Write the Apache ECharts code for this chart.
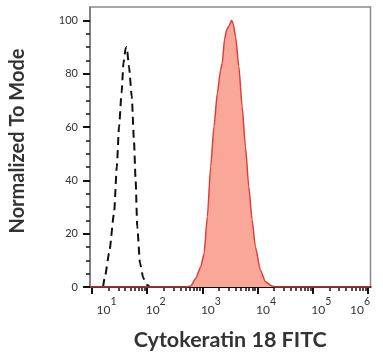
<!DOCTYPE html>
<html><head><meta charset="utf-8">
<script src="https://cdn.jsdelivr.net/npm/echarts@6/dist/echarts.min.js"></script>
<style>html,body{margin:0;padding:0;background:#fff}#c{width:383px;height:359px}</style>
</head><body><div id="c"></div>
<script>
// x positions are log10 of FITC intensity
const xTickExponents = [1, 2, 3, 4, 5, 6];
const yTickValues = [0, 20, 40, 60, 80, 100];
const yMinorTickValues = [5, 10, 15, 25, 30, 35, 45, 50, 55, 65, 70, 75, 85, 90, 95];
const isotypeLogX = [1.20, 1.235, 1.31, 1.40, 1.45, 1.49, 1.536, 1.57, 1.61, 1.63, 1.67, 1.72, 1.76, 1.79, 1.82, 1.87, 1.93, 2.00, 2.05];
const isotypeY    = [0, 3.9, 12.6, 27.7, 45.2, 60.2, 72.7, 84, 89.6, 90, 82.7, 71.5, 55.2, 40.2, 22.6, 8.9, 3.3, 0.75, 0];
const stainedLogX = [0.964, 2.70, 2.79, 2.88, 2.97, 3.03, 3.09, 3.15, 3.21, 3.27, 3.33, 3.36, 3.40, 3.44, 3.48, 3.53, 3.56, 3.60, 3.66, 3.72, 3.78, 3.84, 3.90, 3.96, 4.05, 4.14, 4.26, 4.35, 6.045];
const stainedY    = [0, 0, 0.4, 3.3, 7.6, 12.6, 26.4, 45.2, 60.2, 72.7, 81.5, 84, 92.8, 96.5, 97.8, 100, 98.5, 94, 82.7, 67.7, 52.7, 37.7, 25.2, 15.1, 6.4, 2, 0.4, 0, 0];

const xMinorTicks = [];
for (let n = 0; n < 6; n++) for (let k = 2; k <= 9; k++) {
  const v = n + Math.log10(k);
  if (v > 0.964 && v < 6.045) xMinorTicks.push(v);
}
const zip = (a, b) => a.map((v, i) => [v, b[i]]);
const FONT = 'Lato';
const baseStyle = { fontFamily: FONT, fontSize: 12, color: '#333', lineHeight: 19.5, verticalAlign: 'bottom' };
const supStyle = { fontFamily: FONT, fontSize: 10.5, color: '#333', verticalAlign: 'top' };
const chart = echarts.init(document.getElementById('c'));
chart.setOption({
  animation: false,
  grid: { left: 89, right: 12.5, top: 7, bottom: 72, show: true, borderColor: '#8a8a8a', borderWidth: 1.5 },
  xAxis: [{
    type: 'value', min: 0.964, max: 6.045,
    name: 'Cytokeratin 18 FITC', nameLocation: 'middle', nameGap: 42,
    nameTextStyle: { fontFamily: FONT, fontWeight: 'bold', fontSize: 21.5, color: '#333' },
    axisLine: { show: true, onZero: false, lineStyle: { color: '#111', width: 2 } },
    axisTick: { show: true, customValues: xTickExponents, length: 7, lineStyle: { color: '#111', width: 2 } },
    axisLabel: {
      customValues: xTickExponents, margin: 9.5, fontFamily: FONT, color: '#333',
      formatter: v => {
        const e = Math.round(v);
        const b = e === 1 ? 'b1' : (e === 6 ? 'b6' : 'b');
        const s = e === 6 ? 's6' : 's';
        return '{' + b + '|10}{' + s + '|' + e + '}';
      },
      rich: {
        b: Object.assign({}, baseStyle, { padding: [0, 0, 0, 17] }),
        b1: Object.assign({}, baseStyle, { padding: [0, 0, 0, 29] }),
        b6: Object.assign({}, baseStyle),
        s: Object.assign({}, supStyle),
        s6: Object.assign({}, supStyle, { padding: [0, 16, 0, 0] })
      }
    },
    splitLine: { show: false }
  }, {
    type: 'value', min: 0.964, max: 6.045, position: 'bottom',
    axisLine: { show: false },
    axisTick: { show: true, customValues: xMinorTicks, length: 4, lineStyle: { color: '#111', width: 1.5 } },
    axisLabel: { show: false }, splitLine: { show: false }
  }],
  yAxis: [{
    type: 'value', min: 0, max: 105,
    name: 'Normalized To Mode', nameLocation: 'middle', nameGap: 62,
    nameTextStyle: { fontFamily: FONT, fontWeight: 'bold', fontSize: 20, color: '#333', padding: [0, 0, 0, 12] },
    axisLine: { show: true, lineStyle: { color: '#777', width: 1.5 } },
    axisTick: { show: true, customValues: yTickValues, length: 7, lineStyle: { color: '#111', width: 2 } },
    axisLabel: { customValues: yTickValues, margin: 12, fontFamily: FONT, fontSize: 11, color: '#333' },
    splitLine: { show: false }
  }, {
    type: 'value', min: 0, max: 105, position: 'left',
    axisLine: { show: false },
    axisTick: { show: true, customValues: yMinorTickValues, length: 4, lineStyle: { color: '#111', width: 1.5 } },
    axisLabel: { show: false }, splitLine: { show: false }
  }],
  series: [{
    type: 'line', xAxisIndex: 0, yAxisIndex: 0, data: zip(isotypeLogX, isotypeY),
    showSymbol: false, smooth: 0.2, smoothMonotone: 'x',
    lineStyle: { color: '#111', width: 2, type: [8, 5] }, z: 3
  }, {
    type: 'line', xAxisIndex: 0, yAxisIndex: 0, data: zip(stainedLogX, stainedY),
    showSymbol: false, smooth: 0.2, smoothMonotone: 'x',
    lineStyle: { color: '#d9423a', width: 1.5 },
    areaStyle: { color: '#f8a798', opacity: 1 }, z: 4
  }]
});
</script></body></html>
